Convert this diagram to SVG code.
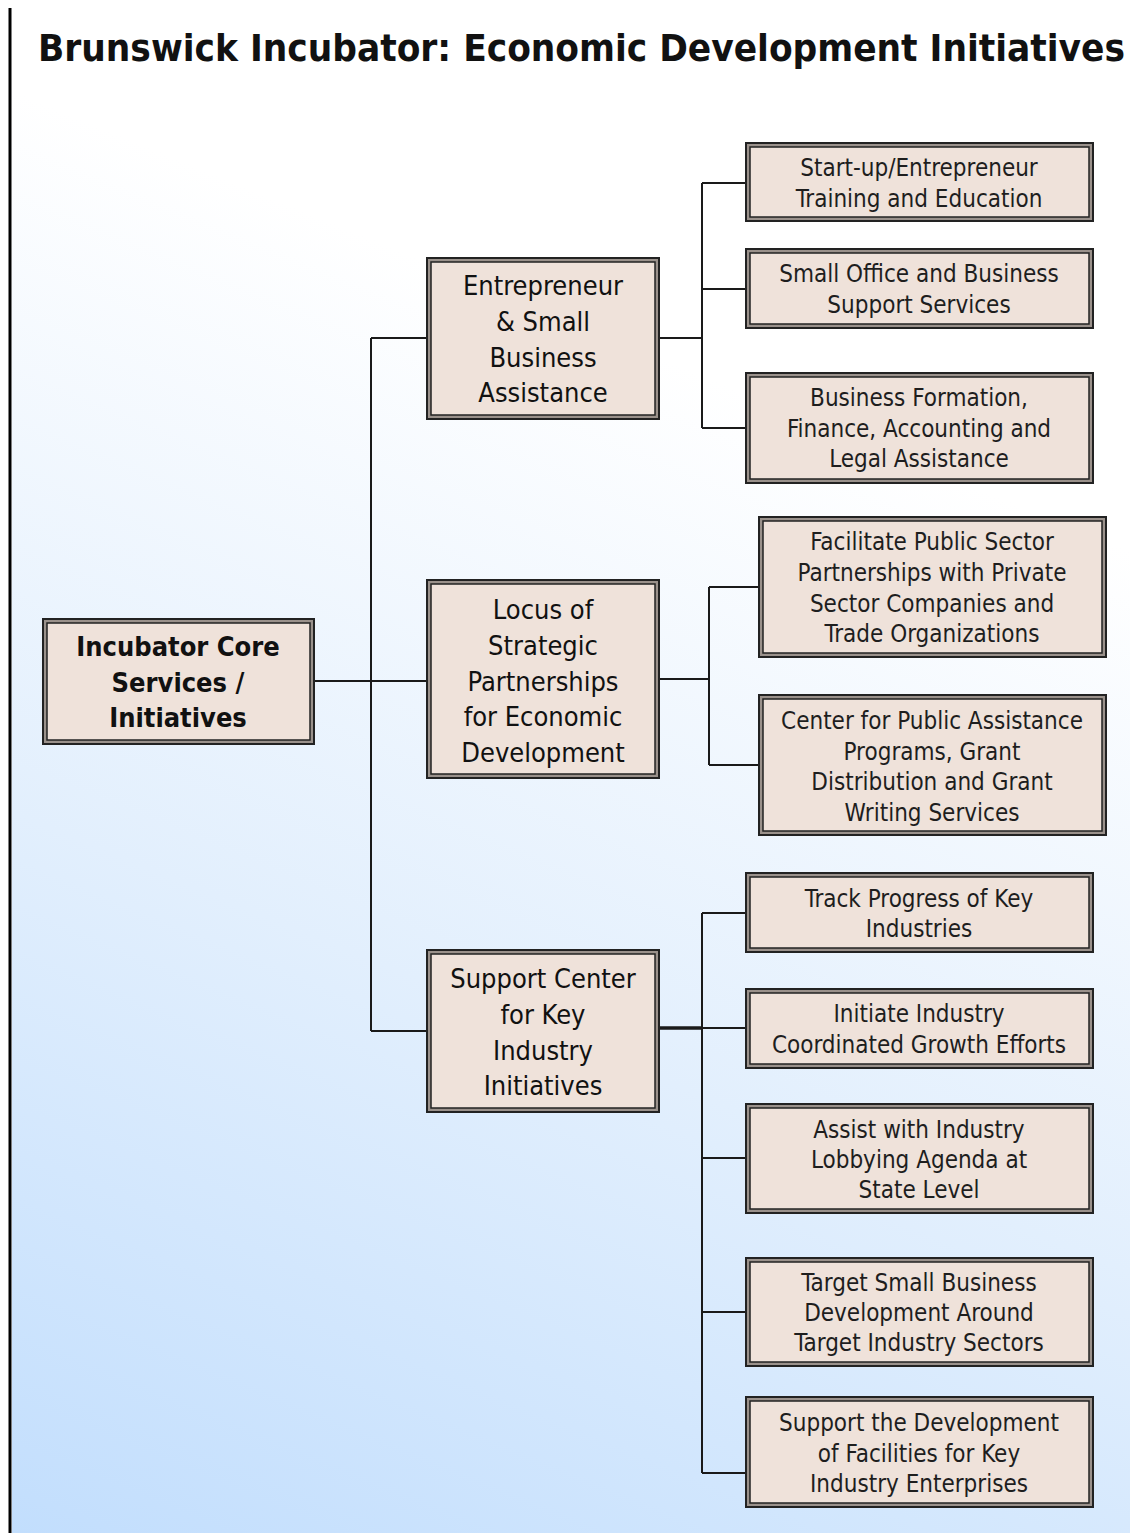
<svg xmlns="http://www.w3.org/2000/svg" width="1130" height="1533" viewBox="0 0 1130 1533">
<style>
.o{fill:#9a918b;stroke:#222;stroke-width:2}
.i{fill:#efe2da;stroke:#222;stroke-width:1.5}
.t{font-family:"DejaVu Sans Condensed","DejaVu Sans",sans-serif;fill:#111;text-anchor:middle}
.m{font-size:27px}
.s{font-size:24px;fill:#1e1e1e}
.b{font-weight:bold}
.c{fill:none;stroke:#1a1a1a;stroke-width:2}
</style>
<defs>
<linearGradient id="bg" gradientUnits="userSpaceOnUse" x1="12" y1="1533" x2="520" y2="300">
<stop offset="0" stop-color="#c2defd"/>
<stop offset="0.5" stop-color="#e2effd"/>
<stop offset="1" stop-color="#ffffff"/>
</linearGradient>
</defs>
<rect x="0" y="0" width="1130" height="1533" fill="#fff"/>
<rect x="12" y="0" width="1118" height="1533" fill="url(#bg)"/>
<line x1="10" y1="8" x2="10" y2="1533" stroke="#000" stroke-width="3"/>
<text x="38" y="61" class="t b" style="font-size:38px;text-anchor:start" textLength="1087" lengthAdjust="spacingAndGlyphs">Brunswick Incubator: Economic Development Initiatives</text>

<g id="connectors">
<path class="c" d="M315 681H426M371 338V1031M371 338H426M371 1031H426"/>
<path class="c" d="M660 338H702M702 183V428M702 183H745M702 289H745M702 428H745"/>
<path class="c" d="M660 679H709M709 587V765M709 587H758M709 765H758"/>
<path class="c" d="M660 1028H745M702 913V1473M702 913H745M702 1158H745M702 1312H745M702 1473H745"/>
<path d="M660 1028H702" stroke="#1a1a1a" stroke-width="3.5"/>
</g>

<g id="root">
<rect class="o" x="43" y="619" width="271" height="125"/><rect class="i" x="47" y="623" width="263" height="117"/>
<text class="t m b" x="178" y="656">Incubator Core</text>
<text class="t m b" x="178" y="692">Services /</text>
<text class="t m b" x="178" y="727">Initiatives</text>
</g>

<g id="nodeA">
<rect class="o" x="427" y="258" width="232" height="161"/><rect class="i" x="431" y="262" width="224" height="153"/>
<text class="t m" x="543" y="295">Entrepreneur</text>
<text class="t m" x="543" y="331">&amp; Small</text>
<text class="t m" x="543" y="367">Business</text>
<text class="t m" x="543" y="402">Assistance</text>
</g>

<g id="nodeB">
<rect class="o" x="427" y="580" width="232" height="198"/><rect class="i" x="431" y="584" width="224" height="190"/>
<text class="t m" x="543" y="619">Locus of</text>
<text class="t m" x="543" y="655">Strategic</text>
<text class="t m" x="543" y="691">Partnerships</text>
<text class="t m" x="543" y="726">for Economic</text>
<text class="t m" x="543" y="762">Development</text>
</g>

<g id="nodeC">
<rect class="o" x="427" y="950" width="232" height="162"/><rect class="i" x="431" y="954" width="224" height="154"/>
<text class="t m" x="543" y="988">Support Center</text>
<text class="t m" x="543" y="1024">for Key</text>
<text class="t m" x="543" y="1060">Industry</text>
<text class="t m" x="543" y="1095">Initiatives</text>
</g>

<g id="nodeA1">
<rect class="o" x="746" y="143" width="347" height="78"/><rect class="i" x="750" y="147" width="339" height="70"/>
<text class="t s" x="919" y="176">Start-up/Entrepreneur</text>
<text class="t s" x="919" y="207">Training and Education</text>
</g>

<g id="nodeA2">
<rect class="o" x="746" y="249" width="347" height="79"/><rect class="i" x="750" y="253" width="339" height="71"/>
<text class="t s" x="919" y="282">Small Office and Business</text>
<text class="t s" x="919" y="313">Support Services</text>
</g>

<g id="nodeA3">
<rect class="o" x="746" y="373" width="347" height="110"/><rect class="i" x="750" y="377" width="339" height="102"/>
<text class="t s" x="919" y="406">Business Formation,</text>
<text class="t s" x="919" y="437">Finance, Accounting and</text>
<text class="t s" x="919" y="467">Legal Assistance</text>
</g>

<g id="nodeB1">
<rect class="o" x="759" y="517" width="347" height="140"/><rect class="i" x="763" y="521" width="339" height="132"/>
<text class="t s" x="932" y="550">Facilitate Public Sector</text>
<text class="t s" x="932" y="581">Partnerships with Private</text>
<text class="t s" x="932" y="612">Sector Companies and</text>
<text class="t s" x="932" y="642">Trade Organizations</text>
</g>

<g id="nodeB2">
<rect class="o" x="759" y="695" width="347" height="140"/><rect class="i" x="763" y="699" width="339" height="132"/>
<text class="t s" x="932" y="729">Center for Public Assistance</text>
<text class="t s" x="932" y="760">Programs, Grant</text>
<text class="t s" x="932" y="790">Distribution and Grant</text>
<text class="t s" x="932" y="821">Writing Services</text>
</g>

<g id="nodeC1">
<rect class="o" x="746" y="873" width="347" height="79"/><rect class="i" x="750" y="877" width="339" height="71"/>
<text class="t s" x="919" y="907">Track Progress of Key</text>
<text class="t s" x="919" y="937">Industries</text>
</g>

<g id="nodeC2">
<rect class="o" x="746" y="989" width="347" height="79"/><rect class="i" x="750" y="993" width="339" height="71"/>
<text class="t s" x="919" y="1022">Initiate Industry</text>
<text class="t s" x="919" y="1053">Coordinated Growth Efforts</text>
</g>

<g id="nodeC3">
<rect class="o" x="746" y="1104" width="347" height="109"/><rect class="i" x="750" y="1108" width="339" height="101"/>
<text class="t s" x="919" y="1138">Assist with Industry</text>
<text class="t s" x="919" y="1168">Lobbying Agenda at</text>
<text class="t s" x="919" y="1198">State Level</text>
</g>

<g id="nodeC4">
<rect class="o" x="746" y="1258" width="347" height="108"/><rect class="i" x="750" y="1262" width="339" height="100"/>
<text class="t s" x="919" y="1291">Target Small Business</text>
<text class="t s" x="919" y="1321">Development Around</text>
<text class="t s" x="919" y="1351">Target Industry Sectors</text>
</g>

<g id="nodeC5">
<rect class="o" x="746" y="1397" width="347" height="110"/><rect class="i" x="750" y="1401" width="339" height="102"/>
<text class="t s" x="919" y="1431">Support the Development</text>
<text class="t s" x="919" y="1462">of Facilities for Key</text>
<text class="t s" x="919" y="1492">Industry Enterprises</text>
</g>
</svg>
